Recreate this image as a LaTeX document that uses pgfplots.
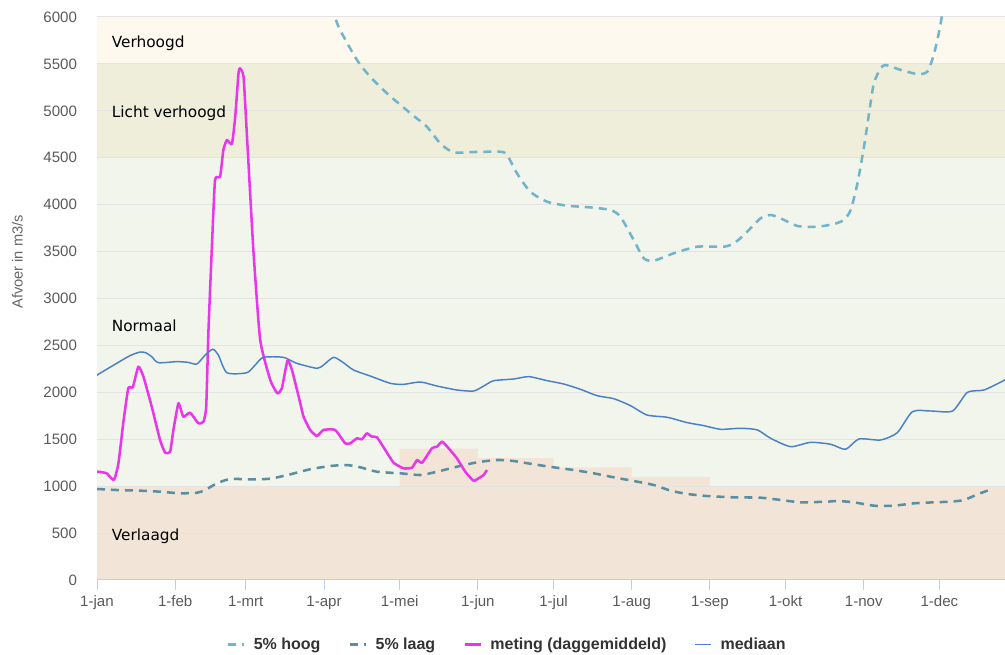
\documentclass[border=0pt]{standalone}
\usepackage{pgfplots}
\pgfplotsset{compat=1.18}
\usepackage{fontspec}
\setmainfont{Liberation Sans}
\newfontfamily\bandfont{DejaVu Sans}
\usetikzlibrary{calc}

\definecolor{bandVh}{HTML}{FDF9EE}
\definecolor{bandLv}{HTML}{EEEEDB}
\definecolor{bandN}{HTML}{F1F5EB}
\definecolor{bandVl}{HTML}{F2E5D8}
\definecolor{gridc}{HTML}{E3E3E3}
\definecolor{xaxc}{HTML}{C0D0E0}
\definecolor{ticktxt}{HTML}{5A5A5A}
\definecolor{labtxt}{HTML}{666666}
\definecolor{legtxt}{HTML}{333333}
\definecolor{hoog}{HTML}{72B4CC}
\definecolor{laag}{HTML}{5A8EA0}
\definecolor{meting}{HTML}{EA36EA}
\definecolor{mediaan}{HTML}{4A80C4}

\begin{document}
\begin{tikzpicture}
\begin{axis}[
  name=ax,
  set layers,
  scale only axis,
  width=681pt, height=422.25pt,
  xmin=0, xmax=360, ymin=0, ymax=6000,
  xtick={0,31,59,90,120,151,181,212,243,273,304,334},
  xticklabels={1-jan,1-feb,1-mrt,1-apr,1-mei,1-jun,1-jul,1-aug,1-sep,1-okt,1-nov,1-dec},
  ytick={0,500,...,6000},
  axis x line=bottom, axis y line=left,
  x axis line style={-, draw=xaxc, line width=0.75pt},
  y axis line style={draw=none},
  tick align=outside,
  major tick length=7.5pt,
  x tick style={draw=xaxc, line width=0.75pt},
  y tick style={draw=none},
  ymajorgrids, grid style={draw=gridc, line width=0.75pt},
  /pgf/number format/assume math mode=true,
  /pgf/number format/1000 sep={},
  tick label style={font=\fontsize{11.3}{13}\selectfont, text=ticktxt},
  yticklabel style={xshift=-4pt},
  xticklabel style={yshift=-1pt},
  ylabel={Afvoer in m3/s},
  every axis y label/.style={at={(axis description cs:-0.0876,0.565)}, rotate=90, anchor=center, font=\fontsize{11}{13}\selectfont, text=labtxt},
  legend style={at={(axis description cs:0.452,-0.115)}, anchor=center, draw=none, fill=none,
    legend columns=-1, font=\bfseries\fontsize{12}{14}\selectfont, text=legtxt,
    /tikz/every even column/.append style={column sep=19pt}},
  legend image code/.code={\draw[#1] (0pt,0pt) -- (12pt,0pt); \path (16.5pt,0pt);},
]
% achtergrondbanden
\addplot[on layer=axis background, draw=none, fill=bandVh, forget plot] coordinates {(0,5500)(360,5500)(360,6000)(0,6000)} -- cycle;
\addplot[on layer=axis background, draw=none, fill=bandLv, forget plot] coordinates {(0,4500)(360,4500)(360,5500)(0,5500)} -- cycle;
\addplot[on layer=axis background, draw=none, fill=bandN, forget plot] coordinates {(0,1000)(360,1000)(360,4500)(0,4500)} -- cycle;
\addplot[on layer=axis background, draw=none, fill=bandVl, forget plot] coordinates {(0,0)(360,0)(360,1000)(0,1000)} -- cycle;
\addplot[on layer=axis background, draw=none, fill=bandVl, forget plot] coordinates {(120,1000)(120,1400)(151,1400)(151,1300)(181,1300)(181,1200)(212,1200)(212,1100)(243,1100)(243,1000)} -- cycle;

\node[anchor=west, font=\bandfont\fontsize{11.5}{13}\selectfont] at (axis cs:4,5723) {Verhoogd};
\node[anchor=west, font=\bandfont\fontsize{11.5}{13}\selectfont] at (axis cs:4,4977) {Licht verhoogd};
\node[anchor=west, font=\bandfont\fontsize{11.5}{13}\selectfont] at (axis cs:4,2707) {Normaal};
\node[anchor=west, font=\bandfont\fontsize{11.5}{13}\selectfont] at (axis cs:4,469) {Verlaagd};

% 5% hoog
\addplot[hoog, line width=1.9pt, dash pattern=on 6pt off 4.5pt, smooth, tension=0.4] coordinates {
(90,6400)(94.4,6000)(96.4,5860)(103.1,5541)(108.3,5363)(115,5186)(124.2,4975)(130.8,4830)
(136.1,4653)(141.3,4557)(149.2,4561)(159.9,4564)(162.6,4529)(166.5,4334)(171.8,4138)
(178.5,4031)(186.4,3989)(195.6,3971)(203.6,3943)(207.5,3872)(212.8,3623)(216.8,3428)
(220.8,3403)(228.7,3482)(238,3552)(248.5,3552)(252.5,3588)(256.5,3677)(263.1,3855)
(267.1,3890)(271,3855)(277.7,3773)(285.6,3765)(292.2,3794)(296.1,3837)(298.8,3943)
(301.5,4227)(304.1,4618)(306.1,4974)(308,5293)(310.7,5453)(312.7,5488)(318.7,5435)
(325.3,5392)(329.2,5417)(331.9,5613)(334.5,5933)(337,6400)};
% 5% laag
\addplot[laag, line width=1.9pt, dash pattern=on 6pt off 4.5pt, smooth, tension=0.4] coordinates {
(0,970)(7.8,959)(17.1,952)(25,941)(32.9,924)(39.6,930)(42.9,959)(47.5,1030)(52.8,1076)
(60.7,1073)(68.7,1080)(76.6,1126)(84.5,1180)(92.5,1215)(99.1,1225)(104.4,1201)(111,1154)
(120.2,1137)(128.2,1119)(134.8,1154)(142.7,1207)(150.7,1254)(158.6,1279)(165.2,1268)
(173.1,1233)(181.1,1201)(189,1172)(196.9,1137)(204.9,1094)(212.8,1055)(220.8,1012)
(227.4,952)(234,917)(241.9,895)(252.5,881)(263.1,877)(271,853)(279,828)(289.6,835)
(293.5,842)(300.1,828)(308,792)(316,792)(323.9,817)(331.9,828)(338.5,835)(343.8,853)
(349.1,913)(354.4,966)};
% meting
\addplot[meting, line width=1.9pt, smooth, tension=0.3, line join=round] coordinates {
(0,1150)(0.5,1154)(3.8,1137)(6.7,1066)(8.5,1243)(10.4,1670)(12.4,2043)(14.2,2054)
(16.4,2273)(18.4,2167)(21.7,1847)(25,1492)(27,1357)(29,1367)(30.3,1599)(32.3,1883)
(34.2,1740)(36.9,1783)(40.2,1670)(42.2,1687)(43.3,1847)(44.2,2664)(45.5,3517)(46.8,4263)
(48.8,4298)(50.1,4583)(51.5,4689)(53.5,4646)(54.8,4937)(56.1,5400)(56.7,5453)(58.1,5364)
(59.4,4760)(62,3517)(64.7,2558)(68.7,2131)(71.5,1990)(73.3,2043)(75.5,2337)(77.3,2238)
(80.6,1883)(81.9,1740)(84.5,1599)(87.2,1535)(89.8,1599)(94.4,1599)(98.4,1457)(100.4,1457)
(103.1,1510)(105,1499)(107,1563)(109,1527)(111,1521)(114.3,1385)(117.6,1250)(121.5,1190)
(124.9,1197)(126.9,1279)(128.9,1250)(132.8,1404)(134.8,1421)(136.8,1474)(139.4,1404)
(142.7,1297)(146,1154)(149.3,1058)(151.3,1084)(153.3,1119)(154.6,1172)};
% mediaan
\addplot[mediaan, line width=1.1pt, smooth, tension=0.4] coordinates {
(0,2180)(0.5,2192)(7.8,2309)(13,2390)(17.1,2430)(19.5,2420)(21.7,2380)(24.3,2316)
(31.6,2327)(36,2320)(39.6,2302)(42.9,2398)(45.9,2459)(48.1,2398)(51.5,2209)(59.4,2209)
(62.7,2291)(66,2373)(73.9,2373)(79.2,2309)(87.2,2256)(89.8,2291)(93.8,2373)(97.7,2316)
(101.7,2238)(108.3,2174)(116.3,2096)(121.5,2085)(128.2,2110)(134.8,2067)(142.7,2025)
(149.3,2014)(153.3,2067)(157.3,2124)(165.2,2142)(171.2,2167)(178.5,2124)(185,2089)
(191.7,2032)(198.3,1964)(204.9,1932)(211.5,1858)(218.1,1758)(226.1,1734)(234,1677)
(240.6,1645)(247.2,1606)(255.2,1617)(261.8,1599)(267.1,1510)(275,1421)(282.9,1467)
(290.9,1446)(296.8,1393)(302.1,1503)(310.7,1492)(317.3,1570)(323.3,1794)(330.6,1801)
(339.2,1801)(345.1,2000)(351.7,2025)(359.4,2124)(360,2135)};
\legend{5\% hoog, 5\% laag, meting (daggemiddeld), mediaan}
\end{axis}
\pgfresetboundingbox
\path[use as bounding box] ($(ax.south west)+(-72.75pt,-56.25pt)$) rectangle ($(ax.north east)+(0pt,12.75pt)$);
\end{tikzpicture}
\end{document}
